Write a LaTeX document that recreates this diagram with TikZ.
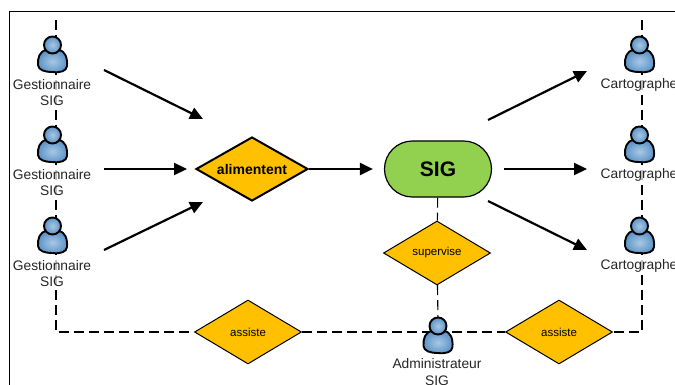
\documentclass[tikz,border=0pt]{standalone}
\usepackage{fontspec}
\setmainfont{Liberation Sans}
\usetikzlibrary{shapes.geometric,backgrounds,arrows.meta}
\definecolor{orangeL}{HTML}{FFC000}
\definecolor{vertL}{HTML}{92D050}
\definecolor{bleuL}{HTML}{5B93C7}
\definecolor{bleuC}{HTML}{A9C8E4}
\tikzset{
    losange/.style={diamond,draw=black,fill=orangeL,line width=1pt,aspect=1.66,inner sep=0pt,
        minimum width=107pt,minimum height=64pt,font=\fontsize{11.5}{13}\selectfont},
    libelle/.style={align=center,inner sep=0pt,font=\fontsize{13.8}{16.5}\selectfont,text=black!85,
        fill=white,fill opacity=0.75,text opacity=1},
    fleche/.style={-{Triangle[length=13pt,width=12pt]},line width=2.2pt},
    lien/.style={line width=1.1pt,dash pattern=on 10pt off 5pt},
    personne/.pic={
        \draw[line width=1.9pt,inner color=bleuC,outer color=bleuL]
            (-6,5) .. controls (-13,6) and (-15,13) .. (-14.5,20)
            .. controls (-14,25) and (-8,27) .. (0,27)
            .. controls (8,28) and (14,26) .. (14.5,21)
            .. controls (15,13) and (13,6) .. (6,5) -- cycle;
        \draw[line width=1.9pt,inner color=bleuC,outer color=bleuL] (0,0) circle (8.5pt);
    }
}
\begin{document}
\begin{tikzpicture}[x=1pt,y=-1pt]
    \useasboundingbox (0,0) rectangle (675,385);
    \draw[line width=1pt] (9,385) -- (9,12) -- (675,12);

    \node[losange,line width=2pt,minimum width=112pt,font=\fontsize{14}{15}\bfseries] (alim) at (252,169) {alimentent};
    \node[draw=black,fill=vertL,line width=1.2pt,rounded corners=27.9pt,minimum width=107pt,minimum height=56pt,
        inner sep=0pt,font=\fontsize{21}{24}\bfseries] (sig) at (438,169) {SIG};
    \node[losange] (sup) at (437,253) {supervise};
    \node[losange] (assA) at (248,332) {assiste};
    \node[losange] (assB) at (559,332) {assiste};

    \coordinate (hautG) at (56,20);
    \coordinate (coinG) at (56,332);
    \coordinate (hautD) at (642,20);
    \coordinate (coinD) at (642,332);
    \coordinate (admin) at (438,320);

    \begin{scope}[on background layer]
        \draw[lien] (hautG) -- (coinG) -- (assA);
        \draw[lien] (hautD) -- (coinD) -- (assB);
        \draw[lien] (assA) -- (assB);
        \draw[lien] (sig) -- (sup);
        \draw[lien] (sup) -- (admin);
    \end{scope}

    \foreach \n/\y in {1/45,2/135,3/226} {
        \node[libelle] (gest\n) at (52,\y+47.5) {Gestionnaire\\SIG};
        \node[libelle] (carto\n) at (639,\y+40) {Cartographe};
        \pic at (52.5,\y) {personne};
        \pic at (639.5,\y) {personne};
    }
    \node[libelle] (adm) at (437,372) {Administrateur\\SIG};
    \pic at (438,326) {personne};

    \coordinate (g1) at (104,70);
    \coordinate (g2) at (104,169);
    \coordinate (g3) at (104,250);
    \coordinate (a1) at (203,119);
    \coordinate (a2) at (187,169);
    \coordinate (a3) at (203,202);
    \coordinate (s1) at (488,120);
    \coordinate (s3) at (488,201);
    \coordinate (c1) at (587,71);
    \coordinate (c2) at (587,169);
    \coordinate (c3) at (587,250);

    \draw[fleche] (g1) -- (a1);
    \draw[fleche] (g2) -- (a2);
    \draw[fleche] (g3) -- (a3);
    \draw[fleche,shorten >=11pt] (alim) -- (sig);
    \draw[fleche] (s1) -- (c1);
    \draw[fleche,shorten <=12pt] (sig) -- (c2);
    \draw[fleche] (s3) -- (c3);
\end{tikzpicture}
\end{document}
